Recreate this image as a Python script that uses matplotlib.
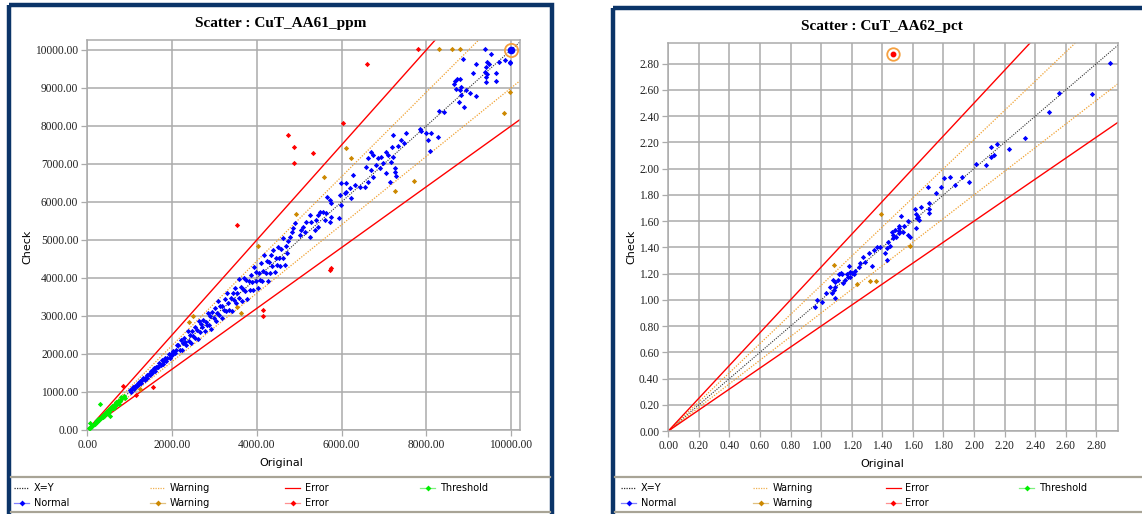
import numpy as np
import matplotlib
matplotlib.use("Agg")
import matplotlib.pyplot as plt
from matplotlib.patches import Rectangle

# ---- left chart: CuT_AA61_ppm ----
left_title = "Scatter : CuT_AA61_ppm"
left_xticks = [0, 2000, 4000, 6000, 8000, 10000]
left_yticks = [0, 1000, 2000, 3000, 4000, 5000, 6000, 7000, 8000, 9000, 10000]

left_normal_x = [9378, 9519, 9708, 9849, 9983, 9983, 9182, 9425, 9479, 9401, 9394, 9432, 9401, 9417, 9637, 9637,
                 9102, 8866, 8670, 8725, 8804, 8654, 8694, 8828, 8789, 8946, 8828, 9041, 9182, 8765, 8890, 8293,
                 8411, 7845, 7885, 7987, 8121, 8041, 8277, 8097, 7531, 7414, 7468, 7333, 7215, 7201, 6706, 6744,
                 6862, 6942, 7060, 7098, 7215, 7178, 6980, 6824, 6626, 6588, 6706, 6902, 7256, 7256, 7296, 7060,
                 7138, 6744, 6626, 6548, 6430, 6312, 6273, 6100, 6194, 6117, 6077, 5999, 5958, 6234, 5999, 5763,
                 5659, 5722, 5566, 5487, 5447, 5409, 5251, 5291, 5173, 5093, 5055, 4898, 4857, 4820, 4780, 5015,
                 5133, 5251, 5369, 5447, 5645, 5605, 5722, 5763, 5942,
                 2150, 2180, 2200, 2230, 2260, 2290, 2310, 2340, 2370, 2390, 2420, 2450, 2470, 2500, 2530, 2550,
                 2580, 2610, 2630, 2660, 2690, 2710, 2740, 2770, 2790, 2820, 2850, 2870, 2900, 2930, 2950, 2980,
                 3010, 3030, 3060, 3090, 3110, 3140, 3170, 3190, 3220, 3250, 3270, 3300, 3330, 3350, 3380, 3410,
                 3430, 3460, 3490, 3510, 3540, 3570, 3590, 3620, 3650, 3670, 3700, 3730, 3750, 3780, 3810, 3830,
                 3860, 3890, 3910, 3940, 3970, 3990, 4020, 4050, 4070, 4100, 4130, 4150, 4180, 4210, 4230, 4260,
                 4290, 4310, 4340, 4370, 4390, 4420, 4450, 4470, 4500, 4530, 4550, 4580, 4610, 4630, 4660, 4690,
                 4710, 4740,
                 1010, 1030, 1060, 1080, 1100, 1130, 1150, 1170, 1200, 1220, 1250, 1270, 1300, 1320, 1350, 1370,
                 1400, 1420, 1450, 1470, 1500, 1530, 1550, 1580, 1600, 1630, 1650, 1680, 1700, 1730, 1760, 1780,
                 1810, 1840, 1860, 1890, 1920, 1940, 1970, 2000, 2030, 2060, 2090, 2120]
left_normal_y = [10020, 9896, 9694, 9738, 9694, 9650, 9633, 9677, 9633, 9563, 9431, 9370, 9300, 9168, 9387, 9195,
                 9387, 9765, 9195, 9230, 9230, 9107, 8967, 9036, 8949, 8949, 8817, 8861, 8791, 8641, 8510, 8405,
                 8378, 7914, 7878, 7809, 7809, 7633, 7704, 7343, 7809, 7633, 7546, 7475, 7764, 7457, 7325, 7238,
                 7151, 7194, 7325, 7238, 7194, 7062, 7019, 6975, 7151, 6931, 6843, 6887, 6887, 6799, 6685, 6755,
                 6536, 6650, 6536, 6405, 6405, 6448, 6712, 6492, 6361, 6273, 6229, 6492, 6185, 6097, 5922, 5966,
                 6124, 6054, 5746, 5746, 5659, 5527, 5659, 5483, 5483, 5351, 5264, 5440, 5309, 5220, 5088, 5132,
                 5220, 5088, 5264, 5351, 5703, 5527, 5483, 5615, 5571,
                 2236, 2115, 2376, 2096, 2283, 2427, 2310, 2246, 2607, 2342, 2493, 2279, 2594, 2475, 2707, 2423,
                 2632, 2401, 2867, 2580, 2798, 2710, 2904, 2604, 2846, 2764, 3078, 2755, 2987, 2666, 3098, 2950,
                 3221, 2879, 3091, 3399, 3017, 3266, 2948, 3254, 3156, 3445, 3139, 3597, 3330, 3149, 3481, 3137,
                 3602, 3425, 3734, 3335, 3611, 3963, 3482, 3765, 3395, 3707, 3996, 3655, 3938, 3440, 3924, 3677,
                 4092, 3890, 3675, 4295, 3930, 4150, 3739, 4131, 3948, 4387, 3924, 4192, 4598, 4126, 4442, 3919,
                 4419, 4138, 4600, 4326, 4741, 4155, 4539, 4336, 4815, 4530, 4323, 4763, 4518, 5047, 4334, 4831,
                 4663, 4977,
                 1040, 1009, 1071, 1123, 1067, 1153, 1150, 1147, 1236, 1208, 1300, 1232, 1313, 1360, 1323, 1370,
                 1456, 1377, 1479, 1455, 1545, 1499, 1566, 1643, 1552, 1663, 1650, 1646, 1751, 1713, 1830, 1727,
                 1828, 1895, 1823, 1890, 1997, 1882, 2009, 1980, 2091, 2019, 2111, 2226]

left_warn_x = [8300, 8600, 8805, 9983, 9833, 6100, 6218, 5589, 7711, 7256, 4921, 4030, 3530, 3620, 2500, 2400, 1243]
left_warn_y = [10020, 10020, 10020, 8888, 8352, 7431, 7168, 6667, 6562, 6282, 5685, 4840, 3240, 3080, 3000, 2840, 1079]

left_err_x = [7806, 6612, 6037, 4740, 4881, 5322, 4872, 3530, 5720, 5760, 4143, 4143, 848, 1148, 1542]
left_err_y = [10020, 9633, 8080, 7764, 7457, 7299, 7027, 5395, 4211, 4260, 3158, 3000, 1158, 921, 1140]

left_thr_x = [40, 60, 80, 100, 120, 140, 160, 180, 200, 220, 240, 260, 280, 300, 320, 340, 360, 380, 400, 420,
              440, 460, 480, 500, 520, 540, 560, 580, 600, 620, 640, 660, 680, 700, 720, 740, 760, 780, 800, 830,
              860, 890, 200, 350, 450, 550, 650, 750, 300, 536, 64]
left_thr_y = [48, 54, 92, 95, 132, 123, 168, 166, 224, 220, 226, 283, 252, 312, 310, 377, 335, 388, 364, 445,
              431, 497, 456, 515, 463, 578, 554, 638, 576, 651, 589, 673, 741, 679, 763, 696, 790, 764, 856, 830,
              886, 854, 206, 354, 437, 567, 624, 758, 676, 368, 192]

left_hl_x = [10000]
left_hl_y = [10010]

# ---- right chart: CuT_AA62_pct ----
right_title = "Scatter : CuT_AA62_pct"
right_ticks = [0.0, 0.2, 0.4, 0.6, 0.8, 1.0, 1.2, 1.4, 1.6, 1.8, 2.0, 2.2, 2.4, 2.6, 2.8]

right_normal_x = [2.89, 2.770, 2.554, 2.49, 2.334, 2.227, 2.148, 2.109, 2.131, 2.113, 2.076, 2.013, 1.969, 1.923,
                  1.874, 1.843, 1.804, 1.786, 1.753, 1.697, 1.704, 1.704, 1.704, 1.655, 1.616, 1.621, 1.632, 1.625,
                  1.642, 1.566, 1.520, 1.542, 1.511, 1.511, 1.511, 1.511, 1.464, 1.483, 1.472, 1.490, 1.472, 1.537,
                  1.570, 1.581, 1.623, 1.435, 1.385, 1.429, 1.450, 1.420, 1.434, 1.363, 1.344, 1.315, 1.331, 1.276,
                  1.287, 1.254, 1.250, 1.221, 1.184, 1.167, 1.189, 1.174, 1.156, 1.128, 1.119, 1.112, 1.141, 1.091,
                  1.080, 1.091, 1.058, 1.084, 1.069, 1.091, 1.032, 1.004, 0.971, 0.960, 1.134, 1.189, 1.200, 1.215]
right_normal_y = [2.806, 2.567, 2.580, 2.43, 2.234, 2.148, 2.188, 2.163, 2.107, 2.092, 2.028, 2.036, 1.901, 1.934,
                  1.878, 1.939, 1.931, 1.863, 1.815, 1.860, 1.736, 1.690, 1.665, 1.706, 1.690, 1.652, 1.634, 1.622,
                  1.609, 1.601, 1.642, 1.563, 1.563, 1.545, 1.527, 1.512, 1.520, 1.533, 1.494, 1.477, 1.469, 1.520,
                  1.494, 1.482, 1.545, 1.444, 1.405, 1.393, 1.413, 1.355, 1.304, 1.405, 1.380, 1.355, 1.261, 1.325,
                  1.291, 1.279, 1.253, 1.222, 1.261, 1.197, 1.177, 1.177, 1.151, 1.202, 1.197, 1.151, 1.126, 1.139,
                  1.151, 1.101, 1.101, 1.075, 1.050, 1.012, 1.050, 0.986, 0.999, 0.948, 1.196, 1.215, 1.202, 1.197]

right_warn_x = [1.394, 1.086, 1.237, 1.320, 1.359, 1.583]
right_warn_y = [1.655, 1.268, 1.118, 1.141, 1.141, 1.411]

right_hl_x = [1.468]
right_hl_y = [2.872]

# limits of the two bands (fraction of the original value)
warn_band = 0.9
err_band = 0.8

W, H = 1142, 514
NAVY = "#0b3468"
GRID = "#ababab"
SEP = "#a8a496"


def px_axes(fig, x0, y0, x1, y1):
    # pixel box (top-left origin) -> figure axes
    return fig.add_axes([x0 / W, 1 - y1 / H, (x1 - x0) / W, (y1 - y0) / H])


def draw_chart(ax, xmax, ymax, xticks, yticks, fmt):
    ax.set_xlim(0, xmax)
    ax.set_ylim(0, ymax)
    ax.set_xticks(xticks)
    ax.set_yticks(yticks)
    ax.set_xticklabels([fmt % t for t in xticks], fontfamily="Liberation Serif", fontsize=8.3, color="#222222")
    ax.set_yticklabels([fmt % t for t in yticks], fontfamily="Liberation Serif", fontsize=8.3, color="#222222")
    ax.tick_params(length=4.5, width=0.9, color=GRID, pad=2)
    ax.grid(True, color=GRID, linewidth=1.1)
    ax.set_axisbelow(True)
    for s in ax.spines.values():
        s.set_color(GRID)
        s.set_linewidth(1.1)
    t = np.array([0, max(xmax, ymax) * 1.5])
    ax.plot(t, t, color="#303030", lw=0.8, ls=(0, (1, 1.2)), zorder=2)
    ax.plot(t, t / warn_band, color="#f0a030", lw=0.9, ls=(0, (1, 1.2)), zorder=2)
    ax.plot(t, t * warn_band, color="#f0a030", lw=0.9, ls=(0, (1, 1.2)), zorder=2)
    ax.plot(t, t / err_band, color="#ff0000", lw=1.0, zorder=2)
    ax.plot(t, t * err_band, color="#ff0000", lw=1.0, zorder=2)


def dots(ax, x, y, color, size=2.7):
    ax.plot(x, y, ls="none", marker="D", ms=size, mfc=color, mec=color, mew=0, zorder=4, clip_on=False)


fig = plt.figure(figsize=(W / 100, H / 100), dpi=100)

# left chart
axl = px_axes(fig, 87.3, 40.3, 520, 430)
draw_chart(axl, 10212, 10255, left_xticks, left_yticks, "%.2f")
dots(axl, left_thr_x, left_thr_y, "#00ee00")
dots(axl, left_normal_x, left_normal_y, "#0000ff")
dots(axl, left_warn_x, left_warn_y, "#cc8800")
dots(axl, left_err_x, left_err_y, "#ff0000")
axl.plot(left_hl_x, left_hl_y, ls="none", marker="o", ms=4.5, mfc="#0000ff", mec="#0000ff", zorder=5, clip_on=False)
axl.plot(left_hl_x, left_hl_y, ls="none", marker="o", ms=9.5, mfc="none", mec="#f5a040", mew=1.3, zorder=5,
         clip_on=False)

# right chart
axr = px_axes(fig, 668.3, 43.3, 1118.3, 431)
draw_chart(axr, 2.944, 2.956, right_ticks, right_ticks, "%.2f")
dots(axr, right_normal_x, right_normal_y, "#0000ff")
dots(axr, right_warn_x, right_warn_y, "#cc8800")
axr.plot(right_hl_x, right_hl_y, ls="none", marker="o", ms=3.2, mfc="#ff0000", mec="#ff0000", zorder=5)
axr.plot(right_hl_x, right_hl_y, ls="none", marker="o", ms=9, mfc="none", mec="#f5a040", mew=1.3, zorder=5)

# overlay in pixel coordinates for frames, titles, labels and legends
ov = fig.add_axes([0, 0, 1, 1], zorder=-1)
ov.set_xlim(0, W)
ov.set_ylim(H, 0)
ov.axis("off")

ov.add_patch(Rectangle((9, 5), 543, 520, fill=False, ec=NAVY, lw=3.2))
ov.add_patch(Rectangle((613, 8), 540, 520, fill=False, ec=NAVY, lw=3.2))
for x0, x1 in [(11, 550), (615, 1142)]:
    ov.plot([x0, x1], [477, 477], color=SEP, lw=1.6)
    ov.plot([x0, x1], [512, 512], color=SEP, lw=1.6)

ov.text(281, 24, left_title, ha="center", va="center", fontfamily="Liberation Serif", fontweight="bold",
        fontsize=11)
ov.text(882, 26.5, right_title, ha="center", va="center", fontfamily="Liberation Serif", fontweight="bold",
        fontsize=11)
ov.text(281, 463, "Original", ha="center", va="center", fontsize=8)
ov.text(882, 464, "Original", ha="center", va="center", fontsize=8)
ov.text(27, 247, "Check", ha="center", va="center", rotation=90, fontsize=8)
ov.text(631, 247, "Check", ha="center", va="center", rotation=90, fontsize=8)

legend_items = [
    ("X=Y", "#303030", (0, (1, 1)), None, 0),
    ("Warning", "#f0b050", (0, (1, 1)), None, 1),
    ("Error", "#ff0000", "-", None, 2),
    ("Threshold", "#80f080", "-", "#00ee00", 3),
    ("Normal", "#8080ff", "-", "#0000ff", 4),
    ("Warning", "#e0c080", "-", "#cc8800", 5),
    ("Error", "#ff9090", "-", "#ff0000", 6),
]
for base, cols in [(0, [14, 150, 285, 420]), (1, [621, 753, 885.5, 1019])]:
    for label, lc, ls, mc, i in legend_items:
        col = i % 4
        row = i // 4
        x0 = cols[col]
        y = 488 + row * 15
        ov.plot([x0, x0 + 15], [y, y], color=lc, ls=ls, lw=0.9)
        if mc:
            ov.plot([x0 + 7.5], [y], ls="none", marker="D", ms=3.0, mfc=mc, mec=mc, mew=0)
        ov.text(x0 + 20, y, label, va="center", ha="left", fontsize=7)

fig.savefig("out.png", dpi=100)
